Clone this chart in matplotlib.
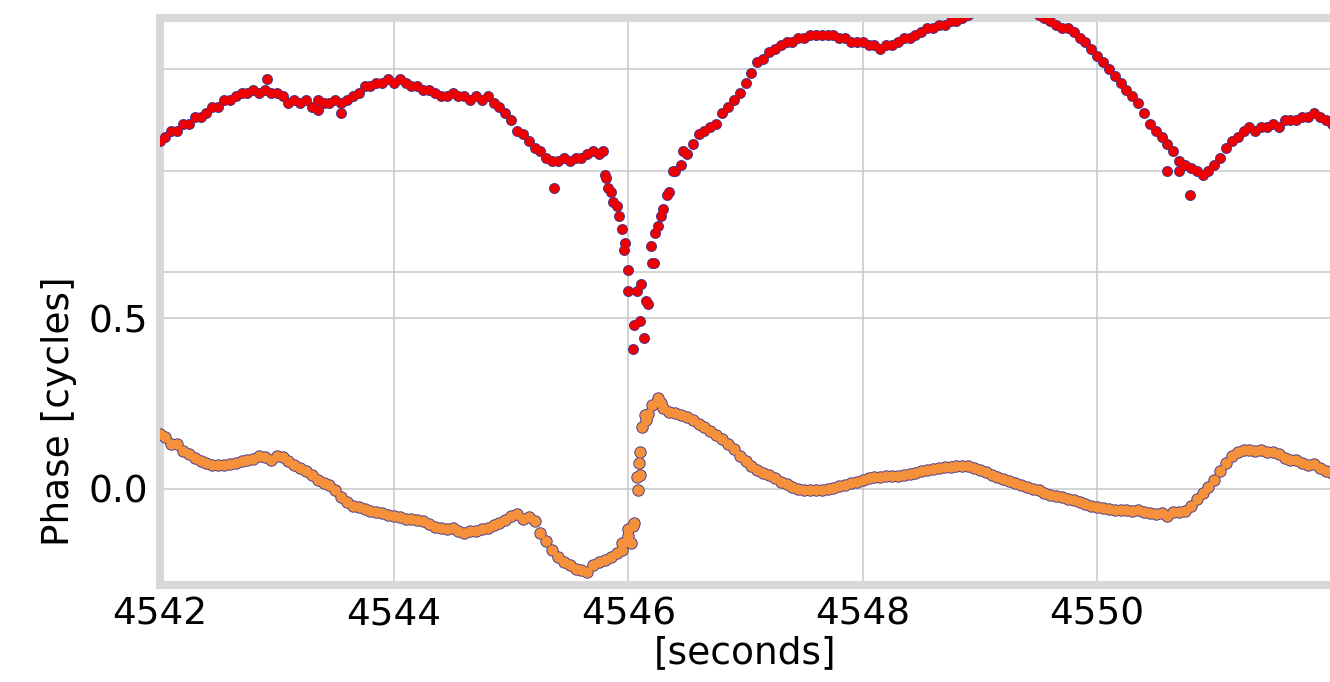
import numpy as np
from matplotlib import pyplot

# phase samples, 0.05 s apart starting at 4542.0 s
t_start = 4542.0
dt = 0.05

red_phase = [
  1.02, 1.03, 1.05, 1.05, 1.07, 1.07, 1.09, 1.09, 1.10, 1.12,
  1.12, 1.14, 1.14, 1.15, 1.16, 1.16, 1.17, 1.16, 1.17, 1.16,
  1.16, 1.15, 1.13, 1.14, 1.13, 1.14, 1.12, 1.14, 1.13, 1.13,
  1.14, 1.13, 1.14, 1.15, 1.16, 1.18, 1.18, 1.19, 1.19, 1.20,
  1.19, 1.20, 1.19, 1.18, 1.18, 1.17, 1.17, 1.16, 1.15, 1.15,
  1.16, 1.15, 1.15, 1.14, 1.15, 1.14, 1.15, 1.13, 1.12, 1.10,
  1.08, 1.05, 1.04, 1.02, 1.00, 0.99, 0.97, 0.96, 0.96, 0.97,
  0.96, 0.97, 0.97, 0.98, 0.99, 0.98, 0.92, 0.87, 0.83, 0.76,
  0.64, 0.48, 0.49, 0.55, 0.66, 0.77, 0.82, 0.87, 0.93, 0.95,
  0.98, 1.01, 1.04, 1.05, 1.06, 1.07, 1.10, 1.12, 1.14, 1.16,
  1.19, 1.22, 1.25, 1.26, 1.28, 1.29, 1.30, 1.31, 1.31, 1.32,
  1.32, 1.33, 1.33, 1.33, 1.33, 1.33, 1.32, 1.32, 1.31, 1.31,
  1.31, 1.30, 1.30, 1.29, 1.30, 1.30, 1.31, 1.32, 1.32, 1.33,
  1.34, 1.35, 1.35, 1.36, 1.36, 1.37, 1.37, 1.38, 1.39, 1.40,
  1.41, 1.42, 1.43, 1.43, 1.44, 1.44, 1.43, 1.42, 1.41, 1.40,
  1.39, 1.38, 1.37, 1.36, 1.35, 1.35, 1.34, 1.32, 1.31, 1.29,
  1.27, 1.25, 1.23, 1.21, 1.19, 1.17, 1.15, 1.13, 1.10, 1.07,
  1.05, 1.03, 1.01, 0.99, 0.96, 0.95, 0.94, 0.93, 0.92, 0.93,
  0.95, 0.97, 1.00, 1.02, 1.03, 1.05, 1.06, 1.05, 1.06, 1.06,
  1.07, 1.06, 1.08, 1.08, 1.08, 1.09, 1.09, 1.10, 1.09, 1.08,
  1.07,
]

orange_phase = [
  0.160, 0.150, 0.130, 0.130, 0.110, 0.100, 0.090, 0.080, 0.075, 0.070,
  0.068, 0.070, 0.072, 0.075, 0.080, 0.084, 0.088, 0.095, 0.093, 0.085,
  0.095, 0.092, 0.080, 0.070, 0.060, 0.050, 0.040, 0.025, 0.015, 0.010,
  -0.005, -0.025, -0.040, -0.050, -0.055, -0.060, -0.065, -0.068, -0.072, -0.078,
  -0.082, -0.085, -0.090, -0.090, -0.092, -0.095, -0.105, -0.112, -0.115, -0.118,
  -0.115, -0.125, -0.130, -0.125, -0.125, -0.120, -0.115, -0.108, -0.100, -0.092,
  -0.080, -0.075, -0.088, -0.085, -0.095, -0.130, -0.155, -0.180, -0.200, -0.215,
  -0.225, -0.235, -0.240, -0.245, -0.225, -0.215, -0.210, -0.200, -0.190, -0.160,
  -0.120, -0.100, 0.040, 0.200, 0.245, 0.265, 0.235, 0.225, 0.222, 0.215,
  0.210, 0.200, 0.190, 0.180, 0.170, 0.157, 0.145, 0.130, 0.115, 0.095,
  0.080, 0.065, 0.055, 0.045, 0.040, 0.030, 0.020, 0.012, 0.005, 0.000,
  -0.003, -0.004, -0.004, -0.004, -0.002, 0.002, 0.006, 0.010, 0.015, 0.020,
  0.025, 0.030, 0.033, 0.035, 0.036, 0.037, 0.038, 0.040, 0.043, 0.046,
  0.050, 0.053, 0.056, 0.059, 0.062, 0.064, 0.066, 0.066, 0.065, 0.061,
  0.055, 0.048, 0.041, 0.035, 0.029, 0.023, 0.017, 0.011, 0.005, 0.000,
  -0.005, -0.012, -0.018, -0.022, -0.026, -0.030, -0.035, -0.040, -0.045, -0.050,
  -0.053, -0.056, -0.060, -0.062, -0.063, -0.062, -0.065, -0.063, -0.070, -0.072,
  -0.075, -0.072, -0.080, -0.070, -0.068, -0.066, -0.050, -0.030, -0.014, 0.005,
  0.025, 0.050, 0.074, 0.095, 0.106, 0.112, 0.113, 0.110, 0.112, 0.108,
  0.108, 0.100, 0.090, 0.083, 0.085, 0.075, 0.070, 0.072, 0.060, 0.050,
  0.045,
]

# scattered samples around the phase jump and a few outliers
red_extra_t = [4542.92, 4543.35, 4543.55, 4545.37, 4545.78, 4545.81, 4545.83,
               4545.87, 4545.92, 4545.96, 4545.97, 4546.00, 4546.04, 4546.07,
               4546.11, 4546.13, 4546.17, 4546.19, 4546.22, 4546.23, 4546.28,
               4546.33, 4546.38, 4546.47, 4550.60, 4550.70, 4550.79]
red_extra_v = [1.20, 1.11, 1.10, 0.88, 0.99, 0.91, 0.88,
               0.84, 0.80, 0.70, 0.72, 0.58, 0.41, 0.58,
               0.60, 0.44, 0.54, 0.71, 0.66, 0.75, 0.80,
               0.86, 0.93, 0.99, 0.93, 0.93, 0.86]
orange_extra_t = [4545.95, 4546.00, 4546.02, 4546.04, 4546.07, 4546.08,
                  4546.09, 4546.10, 4546.12, 4546.14, 4546.17, 4546.28]
orange_extra_v = [-0.18, -0.14, -0.16, -0.11, 0.035, -0.004,
                  0.075, 0.108, 0.18, 0.215, 0.22, 0.25]

red_t = np.concatenate([t_start + dt * np.arange(len(red_phase)), red_extra_t])
red_v = np.concatenate([red_phase, red_extra_v])
orange_t = np.concatenate([t_start + dt * np.arange(len(orange_phase)),
                           orange_extra_t])
orange_v = np.concatenate([orange_phase, orange_extra_v])

x_ticks = [4542, 4544, 4546, 4548, 4550]
y_ticks = [0.0, 0.5]
y_grid_extra = [0.635, 0.931, 1.230]

fig = pyplot.figure(figsize=(13.3, 6.82), dpi=100)
ax = fig.add_axes([159.5 / 1330, 1 - 585 / 682, 1172 / 1330, 567 / 682])

edge = '#43358f'
# outline pass first, then the fill on top so only the outer rim shows
for t, v, fill, ms in ((red_t, red_v, '#ee0000', 6.6),
                       (orange_t, orange_v, '#f5913a', 7.6)):
  ax.plot(t, v, linestyle='none', marker='o', ms=ms + 1.3,
          mfc=edge, mec='none', zorder=3)
  ax.plot(t, v, linestyle='none', marker='o', ms=ms,
          mfc=fill, mec='none', zorder=4)

ax.set_xlim(4542, 4552)
ax.set_ylim(-0.283, 1.380)
ax.set_xticks(x_ticks)
ax.set_yticks(y_ticks)
ax.set_yticks(y_grid_extra, minor=True)
ax.grid(True, which='both', color='#c8c8c8', linewidth=1.1, zorder=0)
ax.set_axisbelow(True)
ax.tick_params(which='both', length=0, labelsize=27, pad=8)
for spine in ax.spines.values():
  spine.set_color('#d9d9d9')
  spine.set_linewidth(5.8)

ax.set_xlabel('[seconds]', fontsize=27, labelpad=2)
ax.set_ylabel('Phase [cycles]', fontsize=27)
ax.yaxis.set_label_coords(-0.070, 0.307)

pyplot.savefig('out.png', dpi=100)
